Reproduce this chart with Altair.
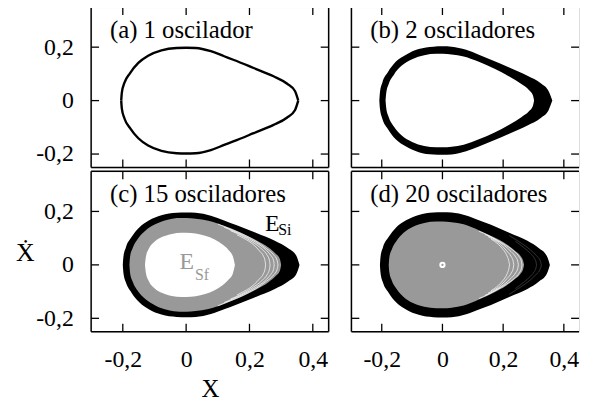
import altair as alt
import pandas as pd

FONT = "Liberation Serif, Times New Roman, DejaVu Serif, serif"
H = 162
W_LEFT, W_RIGHT = 240, 230
TICK = 8

X_DOMAIN = [-0.3, 0.45]
Y_DOMAIN = [-0.25, 0.35]
X_TICKS = [-0.2, 0.0, 0.2, 0.4]
Y_TICKS = [-0.2, 0.0, 0.2]

TITLES = ["(a) 1 oscilador", "(b) 2 osciladores", "(c) 15 osciladores", "(d) 20 osciladores"]

# ---- panel (a): single orbit (upper half; lower half is its mirror) ----
A_X = [-0.205, -0.203, -0.195, -0.177, -0.151, -0.12, -0.078, -0.03, 0.0, 0.03, 0.078, 0.12, 0.151, 0.213, 0.276, 0.318, 0.344, 0.354]
A_V = [0.0, 0.03, 0.066, 0.103, 0.141, 0.168, 0.188, 0.197, 0.198, 0.197, 0.185, 0.166, 0.152, 0.122, 0.091, 0.064, 0.035, 0.0]

# ---- panel (b): band between outer and inner orbit ----
B_OUT_X = [-0.208, -0.206, -0.198, -0.18, -0.154, -0.12, -0.078, -0.03, 0.0, 0.03, 0.078, 0.12, 0.16, 0.22, 0.28, 0.325, 0.35, 0.362]
B_OUT_V = [0.0, 0.03, 0.068, 0.106, 0.145, 0.172, 0.193, 0.202, 0.203, 0.202, 0.19, 0.172, 0.153, 0.124, 0.093, 0.064, 0.035, 0.0]
B_IN_X = [-0.1875, -0.185, -0.177, -0.16, -0.135, -0.10, -0.06, -0.02, 0.0, 0.03, 0.07, 0.12, 0.17, 0.22, 0.26, 0.285, 0.298, 0.302]
B_IN_V = [0.0, 0.03, 0.062, 0.097, 0.13, 0.155, 0.17, 0.175, 0.175, 0.173, 0.165, 0.145, 0.12, 0.09, 0.062, 0.04, 0.02, 0.0]

# ---- panel (c) ----
C_OUT_X = [-0.2, -0.198, -0.19, -0.173, -0.148, -0.118, -0.078, -0.03, 0.0, 0.03, 0.078, 0.12, 0.16, 0.22, 0.28, 0.322, 0.348, 0.358]
C_OUT_V = [0.0, 0.03, 0.066, 0.103, 0.14, 0.166, 0.186, 0.195, 0.196, 0.195, 0.184, 0.166, 0.148, 0.12, 0.09, 0.062, 0.034, 0.0]
C_GRAY_X = [-0.179, -0.177, -0.169, -0.153, -0.129, -0.096, -0.058, -0.02, 0.0, 0.03, 0.07, 0.12, 0.17, 0.22, 0.26, 0.282, 0.296, 0.3]
C_GRAY_V = [0.0, 0.03, 0.062, 0.097, 0.128, 0.153, 0.169, 0.175, 0.175, 0.173, 0.165, 0.146, 0.122, 0.093, 0.065, 0.043, 0.022, 0.0]
C_IN_X = [-0.13, -0.127, -0.118, -0.10, -0.075, -0.045, -0.015, 0.0, 0.03, 0.06, 0.09, 0.115, 0.135, 0.148, 0.154]
C_IN_V = [0.0, 0.03, 0.06, 0.087, 0.105, 0.116, 0.12, 0.12, 0.117, 0.109, 0.095, 0.076, 0.054, 0.03, 0.0]
C_WHITE = [
    ([0.10, 0.14, 0.18, 0.22, 0.255, 0.276, 0.287, 0.29], [0.153, 0.134, 0.114, 0.089, 0.06, 0.038, 0.018, 0.0]),
    ([0.12, 0.15, 0.18, 0.22, 0.25, 0.267, 0.276, 0.278], [0.141, 0.126, 0.11, 0.084, 0.058, 0.036, 0.017, 0.0]),
    ([0.14, 0.16, 0.19, 0.21, 0.24, 0.256, 0.263, 0.265], [0.128, 0.118, 0.1, 0.085, 0.058, 0.036, 0.017, 0.0]),
    ([0.16, 0.18, 0.2, 0.215, 0.232, 0.244, 0.249, 0.251], [0.113, 0.101, 0.087, 0.073, 0.052, 0.033, 0.016, 0.0]),
]

# ---- panel (d) ----
D_OUT_X = [-0.206, -0.204, -0.196, -0.178, -0.152, -0.12, -0.078, -0.03, 0.0, 0.03, 0.078, 0.12, 0.16, 0.22, 0.28, 0.318, 0.344, 0.354]
D_OUT_V = [0.0, 0.03, 0.066, 0.103, 0.141, 0.167, 0.187, 0.196, 0.197, 0.196, 0.185, 0.167, 0.15, 0.12, 0.09, 0.062, 0.033, 0.0]
D_GRAY_X = [-0.177, -0.175, -0.167, -0.151, -0.128, -0.097, -0.06, -0.02, 0.0, 0.03, 0.07, 0.12, 0.17, 0.21, 0.24, 0.258, 0.266, 0.269]
D_GRAY_V = [0.0, 0.028, 0.058, 0.09, 0.12, 0.143, 0.157, 0.162, 0.162, 0.16, 0.152, 0.13, 0.103, 0.078, 0.052, 0.032, 0.015, 0.0]
D_WHITE = [
    ([0.12, 0.15, 0.18, 0.21, 0.237, 0.253, 0.26, 0.262], [0.126, 0.111, 0.093, 0.073, 0.05, 0.03, 0.014, 0.0]),
    ([0.14, 0.16, 0.18, 0.2, 0.226, 0.241, 0.248, 0.25], [0.114, 0.104, 0.091, 0.076, 0.05, 0.03, 0.014, 0.0]),
    ([0.15, 0.165, 0.18, 0.195, 0.212, 0.227, 0.233, 0.235], [0.106, 0.097, 0.087, 0.073, 0.052, 0.03, 0.014, 0.0]),
    ([0.16, 0.172, 0.185, 0.198, 0.208, 0.215, 0.219, 0.221], [0.097, 0.088, 0.076, 0.06, 0.045, 0.028, 0.013, 0.0]),
]
D_DARK = [
    ([0.22, 0.26, 0.29, 0.31, 0.322, 0.326], [0.11, 0.081, 0.056, 0.034, 0.016, 0.0]),
    ([0.24, 0.27, 0.29, 0.302, 0.308, 0.31], [0.089, 0.063, 0.043, 0.026, 0.012, 0.0]),
]
D_CENTER_X = [0.0]
D_CENTER_V = [0.0]

# ---- annotations ----
ESI_MAIN = ("E", 0.249, 0.1275)
ESI_SUB = ("Si", 0.291, 0.112)
ESF_MAIN = ("E", -0.021, -0.016)
ESF_SUB = ("Sf", 0.028, -0.058)

GRAY = "#999999"

LABEL_EXPR = "datum.value == 0 ? '0' : replace(replace(format(datum.value, '.1f'), '.', ','), '\u2212', '-')"

def band_df(xs, vs):
    return pd.DataFrame({"x": xs, "y": vs, "y2": [-v for v in vs]})

def arcs_df(curves):
    rows = []
    for i, (xs, vs) in enumerate(curves):
        for x, v in zip(xs, vs):
            rows.append({"x": x, "y": v, "arc": f"{i}u"})
            rows.append({"x": x, "y": -v, "arc": f"{i}l"})
    return pd.DataFrame(rows)

ONE = pd.DataFrame({"k": [0]})

def make_panel(idx, layers_fn):
    left = idx in (0, 2)
    bottom = idx in (2, 3)
    W = W_LEFT if left else W_RIGHT
    if left:
        yaxis = alt.Axis(values=Y_TICKS, labelExpr=LABEL_EXPR, ticks=False, domain=False, grid=False,
                         labelFont=FONT, labelFontSize=24, labelColor="black", labelPadding=18,
                         title="Ẋ", titleFont=FONT, titleFontSize=26, titleFontWeight="normal",
                         titleColor="black", titleAngle=0, titleX=-67, titleY=82,
                         titleAlign="center", titleBaseline="middle",
                         titleOpacity=1 if idx == 2 else 0)
    else:
        yaxis = None
    if bottom:
        xaxis = alt.Axis(values=X_TICKS, labelExpr=LABEL_EXPR, ticks=False, domain=False, grid=False,
                         labelFont=FONT, labelFontSize=24, labelColor="black", labelPadding=16,
                         labelFlush=False,
                         title="X" if idx == 2 else None, titleFont=FONT, titleFontSize=25,
                         titleFontWeight="normal", titleColor="black", titlePadding=5)
    else:
        xaxis = None

    def X(field="x"):
        return alt.X(f"{field}:Q", scale=alt.Scale(domain=X_DOMAIN, nice=False, zero=False), axis=xaxis)

    def Y(field="y"):
        return alt.Y(f"{field}:Q", scale=alt.Scale(domain=Y_DOMAIN, nice=False, zero=False), axis=yaxis)

    layers = layers_fn(X, Y)

    xt = pd.DataFrame({"x": X_TICKS})
    yt = pd.DataFrame({"y": Y_TICKS})
    rule = dict(color="black", strokeWidth=1.3)
    frame = dict(color="black", strokeWidth=1.5)
    layers += [
        alt.Chart(xt).mark_rule(**rule).encode(x=X(), y=alt.value(H), y2=alt.value(H - TICK)),
        alt.Chart(xt).mark_rule(**rule).encode(x=X(), y=alt.value(0), y2=alt.value(TICK)),
        alt.Chart(yt).mark_rule(**rule).encode(y=Y(), x=alt.value(0), x2=alt.value(TICK)),
        alt.Chart(yt).mark_rule(**rule).encode(y=Y(), x=alt.value(W), x2=alt.value(W - TICK)),
        alt.Chart(ONE).mark_rule(**frame).encode(x=alt.value(0), x2=alt.value(W), y=alt.value(0)),
        alt.Chart(ONE).mark_rule(**frame).encode(x=alt.value(0), x2=alt.value(W), y=alt.value(H)),
        alt.Chart(ONE).mark_rule(**frame).encode(x=alt.value(0), y=alt.value(0), y2=alt.value(H)),
        alt.Chart(pd.DataFrame({"t": [TITLES[idx]]})).mark_text(
            align="left", baseline="alphabetic", font=FONT, fontSize=25, color="black"
        ).encode(x=alt.value(19), y=alt.value(31), text="t:N"),
    ]
    if left:
        layers.append(alt.Chart(ONE).mark_rule(**frame).encode(x=alt.value(W), y=alt.value(0), y2=alt.value(H)))
    return alt.layer(*layers).properties(width=W, height=H)

def text_layer(X, Y, spec, size, color):
    t, x, y = spec
    return alt.Chart(pd.DataFrame({"x": [x], "y": [y], "t": [t]})).mark_text(
        align="left", baseline="alphabetic", font=FONT, fontSize=size, color=color
    ).encode(x=X(), y=Y(), text="t:N")

def area(X, Y, xs, vs, color):
    return alt.Chart(band_df(xs, vs)).mark_area(color=color, interpolate="monotone").encode(x=X(), y=Y(), y2="y2:Q")

def lines(X, Y, curves, color, width, opacity=1.0):
    return alt.Chart(arcs_df(curves)).mark_line(color=color, strokeWidth=width, opacity=opacity,
                                                interpolate="monotone").encode(x=X(), y=Y(), detail="arc:N")

def layers_a(X, Y):
    return [lines(X, Y, [(A_X, A_V)], "black", 2.4)]

def layers_b(X, Y):
    return [area(X, Y, B_OUT_X, B_OUT_V, "black"), area(X, Y, B_IN_X, B_IN_V, "white")]

def layers_c(X, Y):
    return [
        area(X, Y, C_OUT_X, C_OUT_V, "black"),
        area(X, Y, C_GRAY_X, C_GRAY_V, GRAY),
        lines(X, Y, C_WHITE, "white", 0.8, 0.9),
        area(X, Y, C_IN_X, C_IN_V, "white"),
        text_layer(X, Y, ESI_MAIN, 24, "black"),
        text_layer(X, Y, ESI_SUB, 16, "black"),
        text_layer(X, Y, ESF_MAIN, 24, GRAY),
        text_layer(X, Y, ESF_SUB, 16, GRAY),
    ]

def layers_d(X, Y):
    center = pd.DataFrame({"x": D_CENTER_X, "y": D_CENTER_V})
    return [
        area(X, Y, D_OUT_X, D_OUT_V, "black"),
        lines(X, Y, D_DARK, "#555555", 0.6),
        area(X, Y, D_GRAY_X, D_GRAY_V, GRAY),
        lines(X, Y, D_WHITE, "white", 0.8, 0.9),
        alt.Chart(center).mark_point(shape="circle", size=40, filled=True, color="white", opacity=1).encode(x=X(), y=Y()),
        alt.Chart(center).mark_point(shape="circle", size=5, filled=True, color=GRAY, opacity=1).encode(x=X(), y=Y()),
    ]

pa = make_panel(0, layers_a)
pb = make_panel(1, layers_b)
pc = make_panel(2, layers_c)
pd_ = make_panel(3, layers_d)

chart = alt.concat(pa, pb, pc, pd_, columns=2, spacing={"row": 0, "column": 19}).properties(
    padding={"left": 7, "top": -5, "right": 0, "bottom": 0},
    align="each",
).configure_view(stroke="transparent").configure(background="white")

chart.save("out.html", embed_options={"renderer": "svg", "actions": False})
